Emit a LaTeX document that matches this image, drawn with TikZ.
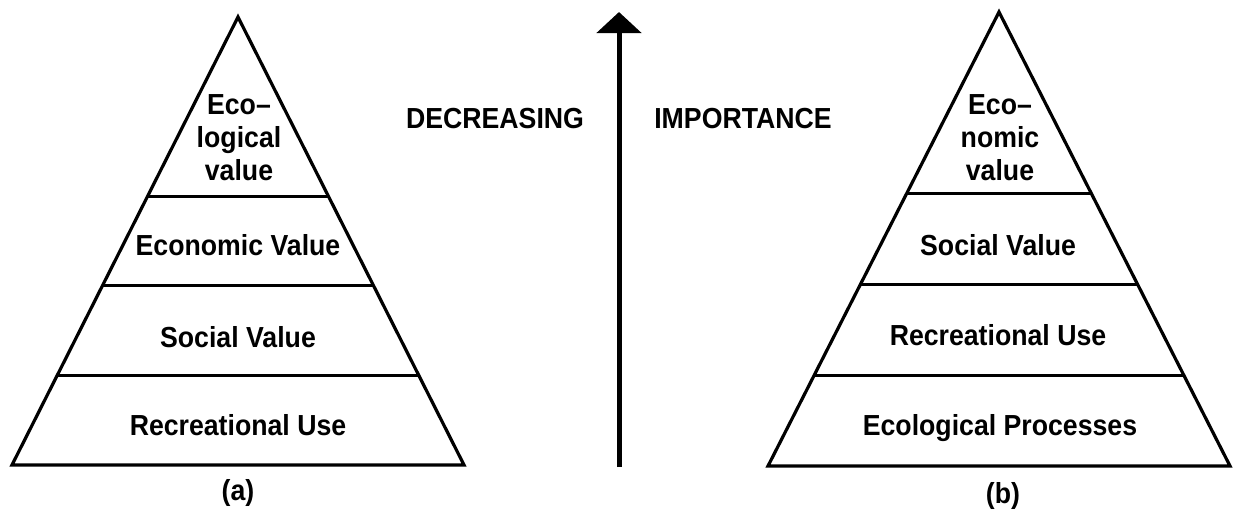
\documentclass[tikz,border=0pt]{standalone}
\usepackage{fontspec}
\setmainfont{Liberation Sans}
\newfontfamily\lblfamily[FakeStretch=0.92]{Liberation Sans}
\usetikzlibrary{arrows.meta,calc}
\tikzset{
  pyr/.style    ={draw=black, line width=3.2pt, line join=miter},
  layer/.style  ={draw=black, line width=3pt},
  lbl/.style    ={font=\lblfamily\bfseries\fontsize{29}{33}\selectfont, anchor=base, inner sep=0pt},
  toplbl/.style ={font=\lblfamily\bfseries\fontsize{29}{33}\selectfont, align=center, inner sep=0pt},
  caplbl/.style ={font=\lblfamily\bfseries\fontsize{29}{33}\selectfont, anchor=base, inner sep=0pt},
  imparr/.style ={line width=5pt, -{Triangle[length=21pt, width=44pt]}},
}

\begin{document}
\begin{tikzpicture}[x=1pt, y=-1pt]
  \useasboundingbox (0,0) rectangle (1238,517);
  % pyramid (a)
  \coordinate (aapex)  at (238,17);
  \coordinate (aleft)  at (12,465);
  \coordinate (aright) at (464,465);
  \draw[pyr] (aapex) -- (aleft) -- (aright) -- cycle;
  \foreach \lv in {0.4,0.6,0.8}
    \draw[layer] ($(aapex)!\lv!(aleft)$) -- ($(aapex)!\lv!(aright)$);
  \node[toplbl] (aeco) at (239,138) {Eco–\\logical\\value};
  \node[lbl] (aecon) at (238,255) {Economic Value};
  \node[lbl] (asoc)  at (238,347) {Social Value};
  \node[lbl] (arec)  at (238,435) {Recreational Use};
  \node[lbl] (acap)  at (238,500) {(a)};
  % pyramid (b)
  \coordinate (bapex)  at (999,12);
  \coordinate (bleft)  at (768,466);
  \coordinate (bright) at (1230,466);
  \draw[pyr] (bapex) -- (bleft) -- (bright) -- cycle;
  \foreach \lv in {0.4,0.6,0.8}
    \draw[layer] ($(bapex)!\lv!(bleft)$) -- ($(bapex)!\lv!(bright)$);
  \node[toplbl] (beco) at (1000,138) {Eco–\\nomic\\value};
  \node[lbl] (bsoc)  at (998,255)  {Social Value};
  \node[lbl] (brec)  at (998,345)  {Recreational Use};
  \node[lbl] (bproc) at (1000,435) {Ecological Processes};
  \node[lbl] (bcap)  at (1003,503) {(b)};
  % importance arrow
  \coordinate (arrbot) at (619,467);
  \coordinate (arrtip) at (619,12);
  \draw[imparr] (arrbot) -- (arrtip);
  \node[caplbl] (decr) at (495,128) {DECREASING};
  \node[caplbl] (impo) at (743,128) {IMPORTANCE};
\end{tikzpicture}
\end{document}
